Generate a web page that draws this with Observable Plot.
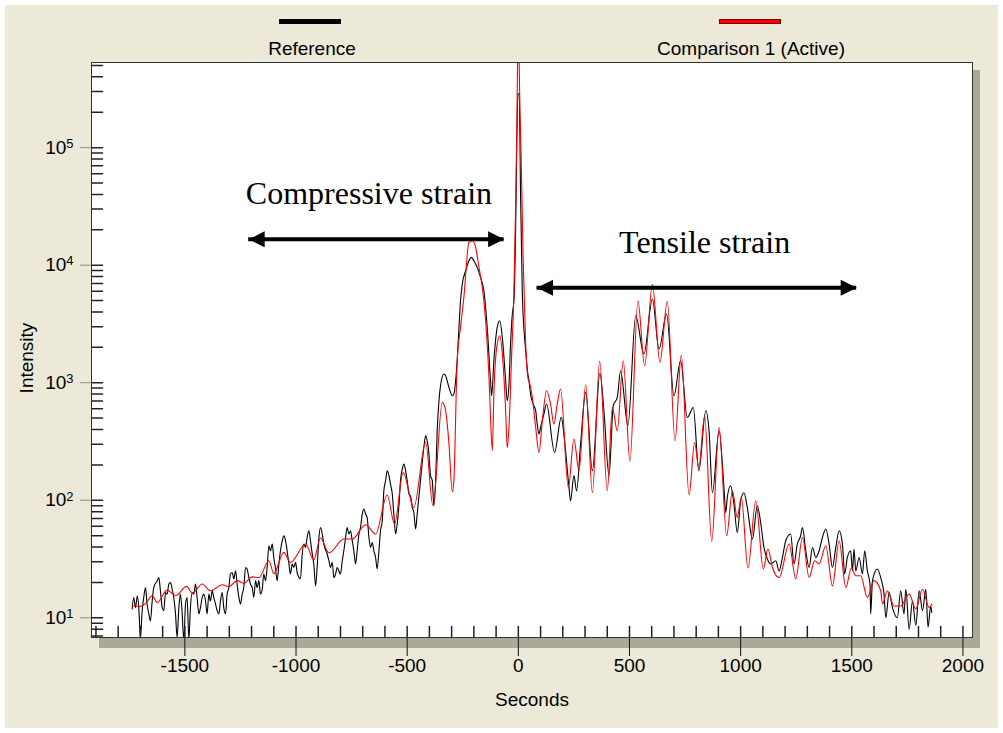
<!DOCTYPE html>
<html><head><meta charset="utf-8">
<script src="https://cdn.jsdelivr.net/npm/d3@7"></script>
<script src="https://cdn.jsdelivr.net/npm/@observablehq/plot@0.6"></script>
<style>
html,body{margin:0;padding:0;background:#fff;}
#wrap{position:relative;width:1003px;height:733px;overflow:hidden;font-family:"Liberation Sans",Arial,sans-serif;color:#000;}
#bg{position:absolute;left:5px;top:5px;width:993px;height:723px;background:#ECE9D8;}
#shadow{position:absolute;left:99px;top:70px;width:881px;height:578px;background:#ACA899;}
#chart{position:absolute;left:0;top:0;}
.sw{position:absolute;height:5px;box-sizing:border-box;}
.lt{position:absolute;width:300px;text-align:center;font-size:19px;line-height:19px;}
#xl{position:absolute;left:382px;top:690px;width:300px;text-align:center;font-size:19px;line-height:19px;}
#yl{position:absolute;left:-73px;top:347px;width:200px;height:22px;text-align:center;font-size:19px;line-height:22px;transform:rotate(-90deg);}
</style></head>
<body>
<div id="wrap">
  <div id="bg"></div>
  <div id="shadow"></div>
  <div id="chart"></div>
  <div class="sw" style="left:279px;top:19px;width:62px;background:#000;"></div>
  <div class="lt" style="left:162px;top:39px;">Reference</div>
  <div class="sw" style="left:719px;top:19px;width:62px;background:#f00;border:1px solid #700;"></div>
  <div class="lt" style="left:601px;top:39px;">Comparison 1 (Active)</div>
  <div id="xl">Seconds</div>
  <div id="yl">Intensity</div>
</div>
<script>
// ---- data ----
const refSec = [-1737,-1730,-1722,-1714,-1707,-1700,-1692,-1685,-1677,-1670,-1662,-1655,-1647,-1640,-1624,-1617,-1610,-1602,-1595,-1587,-1580,-1572,-1565,-1557,-1550,-1542,-1535,-1527,-1520,-1512,-1505,-1497,-1490,-1482,-1475,-1467,-1460,-1452,-1445,-1437,-1430,-1422,-1415,-1407,-1400,-1392,-1385,-1377,-1370,-1362,-1355,-1347,-1340,-1332,-1325,-1317,-1310,-1302,-1295,-1287,-1280,-1272,-1265,-1257,-1250,-1242,-1235,-1227,-1220,-1212,-1205,-1197,-1190,-1182,-1175,-1167,-1160,-1152,-1145,-1137,-1130,-1122,-1115,-1107,-1100,-1092,-1085,-1077,-1070,-1062,-1055,-1047,-1040,-1032,-1025,-1017,-1010,-1002,-995,-980,-972,-965,-957,-950,-942,-935,-927,-920,-912,-905,-897,-890,-882,-875,-860,-852,-845,-837,-830,-822,-815,-800,-792,-785,-777,-770,-762,-755,-747,-740,-732,-725,-717,-710,-702,-695,-687,-680,-672,-665,-657,-650,-642,-635,-627,-620,-612,-605,-597,-590,-582,-575,-567,-560,-552,-545,-537,-530,-522,-515,-507,-500,-492,-485,-477,-470,-462,-455,-440,-425,-417,-410,-402,-395,-387,-380,-372,-365,-357,-350,-335,-327,-312,-297,-290,-282,-275,-267,-260,-252,-237,-222,-211,-200,-185,-170,-155,-140,-125,-120,-110,-95,-84,-72,-57,-50,-42,-35,-27,-20,-12,-8,-2,4,10,18,33,43,48,55,67,78,85,93,100,115,127,163,193,208,228,235,250,262,280,303,333,367,385,408,427,445,460,493,528,565,603,633,667,700,730,760,787,812,843,858,873,903,925,933,940,955,970,985,1000,1015,1030,1053,1075,1090,1105,1120,1135,1158,1173,1188,1203,1225,1240,1255,1270,1278,1293,1308,1323,1338,1353,1368,1383,1398,1413,1428,1443,1458,1468,1480,1495,1503,1510,1518,1533,1548,1558,1570,1582,1585,1593,1615,1630,1645,1653,1668,1683,1705,1720,1735,1743,1758,1773,1788,1803,1818,1833,1843,1855,1860];
const refInt = [11.9,14.9,12.2,15.4,11.9,6.8,11.5,14.9,18.1,13.1,10.8,9.4,13.9,18.1,20.7,22.0,17.0,12.2,11.5,16.4,15.9,19.4,20.0,17.5,14.9,10.8,6.8,12.2,15.9,10.8,6.4,13.1,14.9,6.6,12.2,16.4,15.9,19.4,14.9,10.8,12.2,14.9,15.9,13.9,10.8,15.9,13.9,17.0,14.9,13.1,11.5,10.8,13.9,16.4,12.2,10.8,15.9,18.1,23.6,24.3,21.4,25.1,19.4,14.9,13.1,15.9,18.1,26.8,26.0,22.0,19.4,18.1,14.9,20.7,18.1,20.7,15.9,17.5,23.6,20.7,26.8,41.0,37.2,42.4,32.6,26.0,20.7,28.7,37.2,45.2,49.9,45.2,37.2,28.7,23.6,28.7,26.8,29.6,24.3,21.5,34.9,42.4,39.7,48.2,55.0,45.2,34.9,28.7,18.7,26.8,48.2,58.7,51.6,42.4,34.9,30.6,26.8,29.6,22.0,23.6,26.8,23.6,30.6,37.2,48.2,58.7,51.6,55.0,45.2,37.2,28.7,37.2,51.6,58.7,76.3,84.2,76.3,71.4,48.2,39.7,43.7,37.2,32.6,26.0,37.2,55.0,66.9,120,147,178,162,137,113,76.3,51.6,62.7,89.8,147,184,203,178,147,113,109,86.8,78.7,56.9,76.3,147,281,354,321,247,162,147,89.8,147,390,703,943,1186,1147,912,775,801,1040,1539,2955,4989,6920,8978,10920,11650,10920,9580,7875,6067,2955,1040,775,1539,2955,3371,2429,1040,703,975,2135,3845,4989,20970,77450,286400,286400,40360,5690,1873,1186,1040,801,659,578,445,366,417,542,659,255,507,321,128,99,162,120,301,827,178,1201,578,162,637,749,1265,431,3718,1755,5160,1937,3845,775,1539,507,616,178,578,390,116,390,128,78.7,106,133,92.8,53.2,99,116,86.8,46.8,89.8,64.7,39.7,31.6,28.7,30.6,25.1,32.6,45.2,51.6,28.7,42.4,49.9,58.7,37.2,26.8,39.7,32.6,37.2,48.2,56.9,42.4,26.8,39.7,55.0,42.4,23.6,32.6,37.2,25.1,38.5,25.1,32.6,23.6,37.2,25.1,19.4,10.8,20.7,26.0,22.0,15.9,10.0,16.4,12.2,10.0,17.0,10.8,17.5,8.0,13.9,8.6,17.0,11.5,17.5,8.3,12.6,11.1];

const cmpSec = [-1737,-1700,-1677,-1647,-1624,-1580,-1542,-1492,-1467,-1422,-1385,-1332,-1302,-1265,-1235,-1197,-1167,-1122,-1100,-1055,-1025,-957,-920,-890,-852,-785,-747,-687,-642,-590,-557,-518,-470,-417,-384,-342,-327,-312,-297,-290,-275,-260,-245,-222,-207,-192,-177,-162,-147,-132,-125,-117,-110,-95,-83,-72,-57,-50,-42,-31,-20,-11,-5,0,6,13,22,33,43,52,63,78,93,108,127,145,160,175,190,225,250,273,303,333,366,400,423,445,472,502,538,568,603,637,670,705,733,768,793,812,838,870,903,937,963,985,1003,1033,1068,1102,1123,1143,1173,1218,1248,1278,1308,1333,1353,1383,1413,1443,1473,1498,1518,1540,1570,1600,1630,1638,1660,1690,1720,1758,1788,1818,1848,1860];
const cmpInt = [12.6,12.5,13.2,15.4,13.5,17.2,15.4,18.5,16.2,19.4,17.0,19.1,18.4,20.7,19.6,22.3,22.0,30.6,23.8,36.0,29.6,42.4,31.2,47.7,35.6,46.8,46.8,61.9,51.6,111,62.7,172,86.8,310,89.8,680,578,301,118,147,1539,2955,5320,15630,16160,14170,9580,6470,3371,1109,507,264,801,2135,2512,1755,578,281,417,1539,5690,40360,286400,1500000,286400,77450,10920,2135,1109,975,749,417,255,475,855,659,445,659,885,128,332,178,962,116,1518,120,616,390,1539,214,4989,1395,6826,1488,4920,321,1731,111,310,190,524,44.6,417,49.9,120,71.4,106,26.5,99,26.0,38.5,26.8,22.0,42.4,21.4,48.2,22.0,30.6,28.7,41.0,18.7,45.2,18.1,26.5,22.8,22.8,14.9,20.7,17.0,13.1,17.0,12.6,12.6,15.9,11.9,17.5,12.2,13.1];

const xTickValues = [-1500,-1000,-500,0,500,1000,1500,2000];
const xTickLabels = ["-1500","-1000","-500","0","500","1000","1500","2000"];
const yTickValues = [10,100,1000,10000,100000];
const yTickLabels = ["10^1","10^2","10^3","10^4","10^5"];
const xMinor = d3.range(-1900, 2001, 100);
const yMinor = [7,8,9].concat(...[1,2,3,4,5].map(e => [1,2,3,4,5,6,7,8,9].map(k => k * 10 ** e))).filter(v => v <= 5e5);

const annText = ["Compressive strain", "Tensile strain"];
const annX = [-672, 838];
const annY = [40600, 15540];
const arrowX1 = [-1213, 84];
const arrowX2 = [-64, 1522];
const arrowY = [16600, 6435];

// ---- chart ----
const tickShape = {draw(ctx, l) { ctx.moveTo(0, 0); ctx.lineTo(0, -l); }};
const headShape = {draw(ctx) { ctx.moveTo(0, 0); ctx.lineTo(-16, -8); ctx.lineTo(-16, 8); ctx.closePath(); }};

const chart = Plot.plot({
  width: 1003, height: 733,
  marginTop: 62, marginBottom: 96, marginLeft: 91, marginRight: 31,
  style: {background: "transparent", fontFamily: "'Liberation Sans', Arial, sans-serif", fontSize: "19px", color: "#000", overflow: "visible"},
  x: {domain: [-1920, 2043]},
  y: {type: "log", domain: [6.8, 5.3e5]},
  marks: [
    Plot.frame({fill: "white", stroke: null}),
    Plot.line(refSec, {x: refSec, y: refInt, stroke: "#000", strokeWidth: 1.1, curve: "monotone-x", clip: true}),
    Plot.line(cmpSec, {x: cmpSec, y: cmpInt, stroke: "#ff0000", strokeWidth: 1.1, curve: "monotone-x", clip: true}),
    Plot.ruleY(arrowY, {y: arrowY, x1: arrowX1, x2: arrowX2, stroke: "#000", strokeWidth: 4}),
    Plot.dot(arrowY, {x: arrowX2, y: arrowY, symbol: headShape, fill: "#000", stroke: null}),
    Plot.dot(arrowY, {x: arrowX1, y: arrowY, symbol: headShape, rotate: 180, fill: "#000", stroke: null}),
    Plot.text(annText, {x: annX, y: annY, text: annText, fontFamily: "'Liberation Serif', 'Times New Roman', serif", fontSize: 32, fill: "#000"}),
    Plot.vector(xMinor, {x: d => d, frameAnchor: "bottom", length: 11, anchor: "start", shape: tickShape, stroke: "#222"}),
    Plot.vector(yMinor, {y: d => d, frameAnchor: "left", length: 11, rotate: 90, anchor: "start", shape: tickShape, stroke: "#222"}),
    Plot.axisX(xTickValues, {tickSize: 19, text: null, stroke: "#111", label: null}),
    Plot.axisX(xTickValues, {tickSize: 0, tickPadding: 21, tickFormat: (d, i) => xTickLabels[xTickValues.indexOf(d)], fontSize: 19, label: null}),
    Plot.axisY(yTickValues, {tickSize: 11, text: null, stroke: "#8c8c8c", label: null}),
    Plot.axisY(yTickValues, {tickSize: 0, tickPadding: 18, tickFormat: d => yTickLabels[yTickValues.indexOf(d)], fontSize: 19, label: null}),
    Plot.frame({stroke: "#333", strokeWidth: 1})
  ]
});
document.getElementById("chart").appendChild(chart);

// superscript exponents on the y tick labels
d3.select(chart).selectAll('g[aria-label="y-axis tick label"] text').each(function () {
  const parts = this.textContent.split("^");
  const t = d3.select(this);
  t.text(parts[0]);
  t.append("tspan").attr("dy", "-0.45em").attr("font-size", "0.68em").text(parts[1]);
});
</script>
</body></html>
